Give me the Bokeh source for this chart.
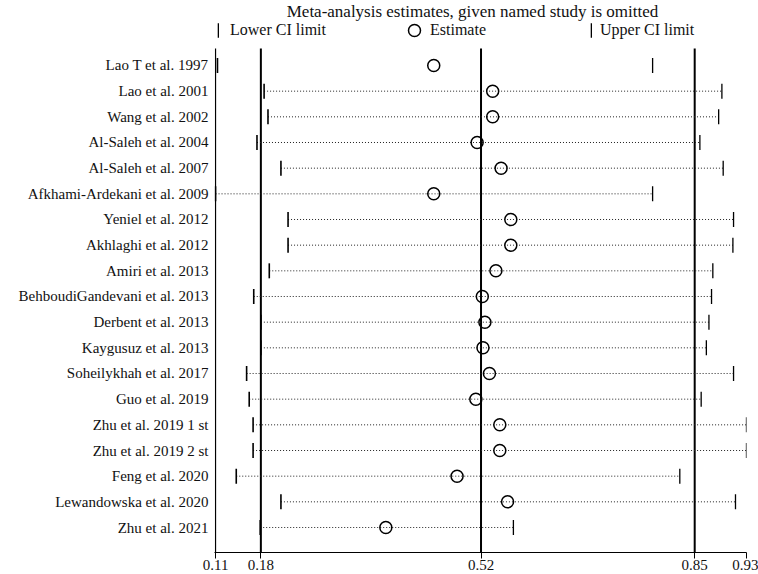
from bokeh.plotting import figure
from bokeh.models import Range1d, FixedTicker, Legend, LegendItem, ColumnDataSource, Label
from bokeh.embed import file_html
from bokeh.resources import INLINE

studies = [
    "Lao T et al. 1997", "Lao et al. 2001", "Wang et al. 2002", "Al-Saleh et al. 2004",
    "Al-Saleh et al. 2007", "Afkhami-Ardekani et al. 2009", "Yeniel et al. 2012",
    "Akhlaghi et al. 2012", "Amiri et al. 2013", "BehboudiGandevani et al. 2013",
    "Derbent et al. 2013", "Kaygusuz et al. 2013", "Soheilykhah et al. 2017",
    "Guo et al. 2019", "Zhu et al. 2019 1 st", "Zhu et al. 2019 2 st",
    "Feng et al. 2020", "Lewandowska et al. 2020", "Zhu et al. 2021",
]
estimate = [0.447, 0.538, 0.538, 0.514, 0.551, 0.447, 0.566, 0.566, 0.543, 0.522,
            0.526, 0.523, 0.533, 0.512, 0.549, 0.549, 0.483, 0.561, 0.373]
lower = [0.113, 0.185, 0.191, 0.174, 0.211, 0.110, 0.222, 0.222, 0.193, 0.169,
         0.180, 0.180, 0.158, 0.162, 0.168, 0.168, 0.142, 0.211, 0.179]
upper = [0.785, 0.892, 0.887, 0.858, 0.894, 0.785, 0.910, 0.909, 0.878, 0.876,
         0.872, 0.868, 0.910, 0.860, 0.930, 0.930, 0.827, 0.913, 0.570]
overall = [0.18, 0.52, 0.85]
x_ticks = [0.11, 0.18, 0.52, 0.85, 0.93]
title_text = "Meta-analysis estimates, given named study is omitted"

n = len(studies)
ypos = [n - i for i in range(n)]
FONT = "Liberation Serif"

# layout (pixels)
FRAME_H = 552
U = 25.667                    # pixels per row
y_start = 1 - 25 / U
y_end = n + 65 / U
line_top = n + 17 / U
x_start = min(x_ticks) - 0.0016

src = ColumnDataSource(dict(y=ypos, est=estimate, lo=lower, hi=upper, name=studies))
src_dots = ColumnDataSource(dict(y=ypos[1:], lo=lower[1:], hi=upper[1:]))
src_vlines = ColumnDataSource(dict(x=overall, y0=[y_start] * len(overall), y1=[line_top] * len(overall)))

p = figure(width=758, height=574, output_backend="svg", toolbar_location=None,
           x_range=Range1d(x_start, max(x_ticks)), y_range=Range1d(y_start, y_end),
           min_border_left=214, min_border_right=12, min_border_bottom=22, min_border_top=0)

p.outline_line_color = None
p.xgrid.visible = False
p.ygrid.visible = False

# overall estimate + CI lines and left axis line
p.segment(x0="x", x1="x", y0="y0", y1="y1", source=src_vlines, line_color="black", line_width=2)
p.segment(x0=min(x_ticks), x1=min(x_ticks), y0=y_start, y1=line_top, line_color="black", line_width=1.2)

p.segment(x0="lo", x1="hi", y0="y", y1="y", source=src_dots,
          line_color="#222222", line_width=1, line_dash="1 2")

r_lo = p.rect(x="lo", y="y", width=1.6, height=15, width_units="screen", height_units="screen",
              source=src, fill_color="black", line_color=None)
r_est = p.scatter(x="est", y="y", source=src, marker="circle", size=12,
                  fill_color=None, line_color="black", line_width=1.5)
r_hi = p.rect(x="hi", y="y", width=1.3, height=15, width_units="screen", height_units="screen",
              source=src, fill_color="black", line_color=None)

p.add_layout(Label(x=(x_start + max(x_ticks)) / 2, y=y_end, x_offset=-8, y_offset=-1, text=title_text,
                   text_align="center", text_baseline="top", text_font=FONT,
                   text_font_size="17px", text_color="#111111"))


def make_legend(label, rend, loc, gw, gh, standoff):
    lg = Legend(items=[LegendItem(label=label, renderers=[rend])], location=loc)
    lg.label_text_font = FONT
    lg.label_text_font_size = "16px"
    lg.label_text_color = "#111111"
    lg.label_standoff = standoff
    lg.label_height = 16
    lg.glyph_width = gw
    lg.glyph_height = gh
    lg.padding = 0
    lg.margin = 0
    lg.border_line_color = None
    lg.background_fill_alpha = 0
    p.add_layout(lg)


make_legend("Lower CI limit", r_lo, (3, FRAME_H - 39), 2, 18, 11)
make_legend("Estimate", r_est, (185, FRAME_H - 45), 30, 30, 1)
make_legend("Upper CI limit", r_hi, (376, FRAME_H - 39), 2, 18, 8)

xa = p.xaxis[0]
xa.ticker = FixedTicker(ticks=x_ticks)
xa.minor_tick_line_color = None
xa.major_tick_out = 6
xa.major_tick_in = 0
xa.major_label_standoff = 1
xa.major_label_text_font = FONT
xa.major_label_text_font_size = "15px"
xa.major_label_text_color = "#111111"
xa.axis_line_color = "black"
xa.axis_line_width = 1.2

ya = p.yaxis[0]
ya.ticker = FixedTicker(ticks=ypos)
ya.major_label_overrides = {y: s for y, s in zip(ypos, studies)}
ya.major_tick_out = 0
ya.major_tick_in = 0
ya.minor_tick_line_color = None
ya.major_label_standoff = 6
ya.major_label_text_font = FONT
ya.major_label_text_font_size = "15px"
ya.major_label_text_color = "#111111"
ya.axis_line_color = None

open("out.html", "w").write(file_html(p, INLINE))
